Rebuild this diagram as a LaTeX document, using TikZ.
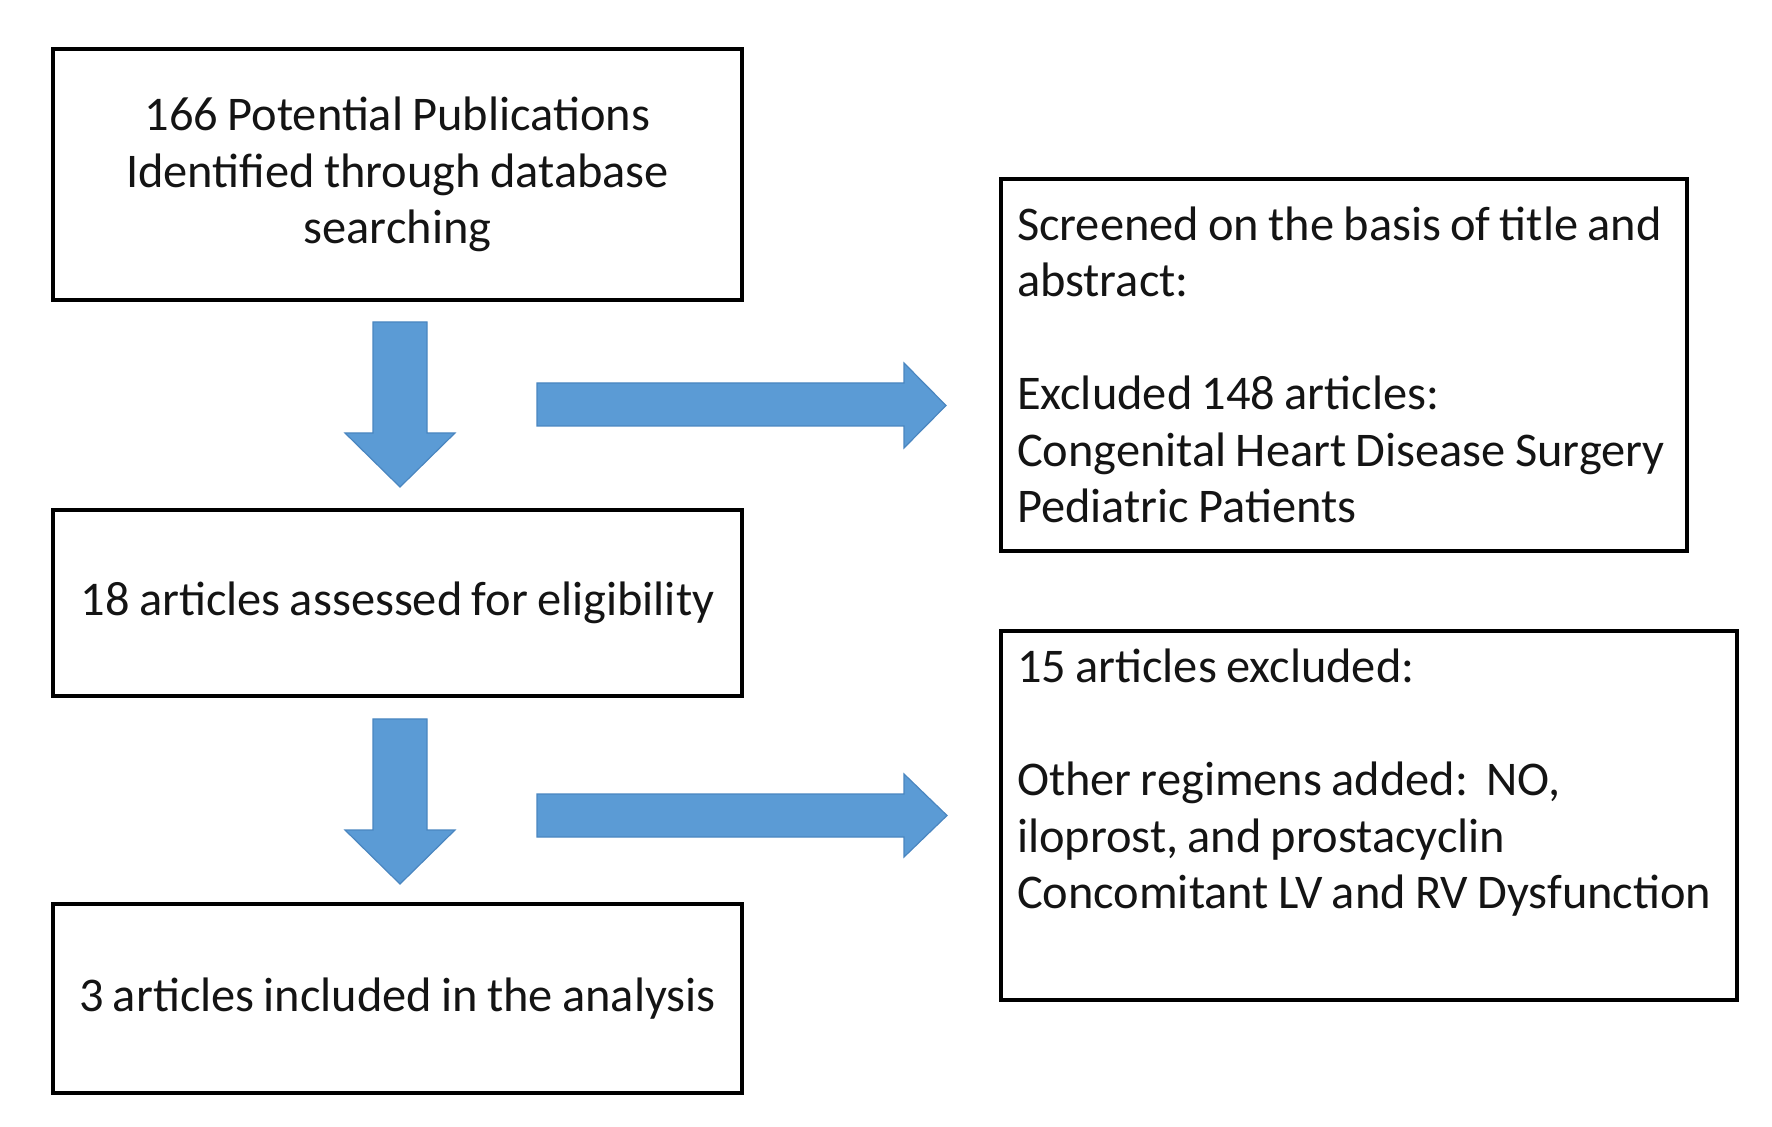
\documentclass[tikz,border=0pt]{standalone}
\usepackage{fontspec}
\setmainfont[WordSpace=0.85]{Carlito}
\definecolor{arrowblue}{HTML}{5B9BD5}
\definecolor{arrowedge}{HTML}{4A86C0}
\definecolor{txt}{HTML}{141414}
\begin{document}
\begin{tikzpicture}[x=0.5pt,y=-0.5pt,
  box/.style={draw=black,line width=1.8pt,rectangle,text=txt,inner xsep=8pt,inner ysep=0pt,
    font=\fontsize{24.2}{28.25}\selectfont},
  cbox/.style={box,align=center},
  lbox/.style={box},
  blockarrow/.style={fill=arrowblue,draw=arrowedge,line width=0.6pt,line join=miter}]
\useasboundingbox (0,0) rectangle (1772,1127);
\node[cbox,minimum width=344.5pt,minimum height=125.5pt] (b1) at (397.5,174.5)
  {166 Potential Publications\\Identified through database\\searching};
\node[cbox,minimum width=344.5pt,minimum height=93pt] (b2) at (397.5,603)
  {18 articles assessed for eligibility};
\node[cbox,minimum width=344.5pt,minimum height=94.5pt] (b3) at (397.5,998.5)
  {3 articles included in the analysis};
\node[lbox,minimum height=186pt] (r1) at (1344,365)
  {\parbox[c]{327pt}{\raggedright Screened on the basis of title and\\abstract:\\\strut\\Excluded 148 articles:\\Congenital Heart Disease Surgery\\Pediatric Patients}};
\node[lbox,minimum height=184.5pt] (r2) at (1369,815.5)
  {\parbox[c]{352pt}{\raggedright 15 articles excluded:\\\strut\\Other regimens added:~~NO,\\iloprost, and prostacyclin\\Concomitant LV and RV Dysfunction\\\strut}};
% down arrows
\draw[blockarrow] (373,322) -- (427,322) -- (427,433) -- (455,433) -- (400,487) -- (345,433) -- (373,433) -- cycle;
\draw[blockarrow] (373,719) -- (427,719) -- (427,830) -- (455,830) -- (400,884) -- (345,830) -- (373,830) -- cycle;
% right arrows
\draw[blockarrow] (537,383) -- (904,383) -- (904,363) -- (946,405.5) -- (904,448) -- (904,426) -- (537,426) -- cycle;
\draw[blockarrow] (537,794) -- (904,794) -- (904,774) -- (947,815.5) -- (904,857) -- (904,837) -- (537,837) -- cycle;
\end{tikzpicture}
\end{document}
